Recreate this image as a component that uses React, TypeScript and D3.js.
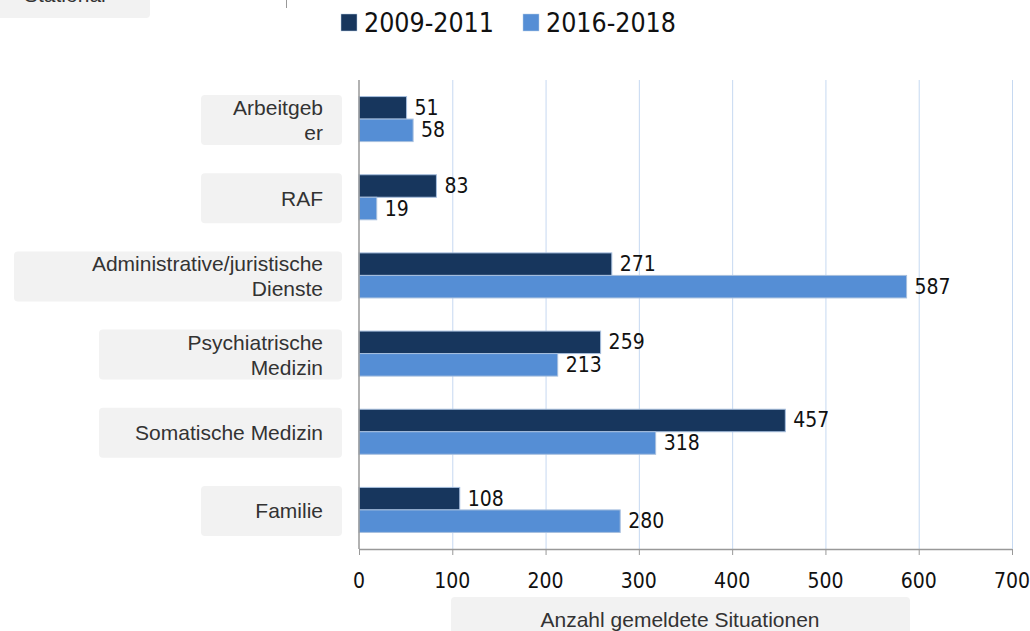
import React from "react";
import * as d3 from "d3";

const categories = [
  ["Arbeitgeb", "er"],
  ["RAF"],
  ["Administrative/juristische", "Dienste"],
  ["Psychiatrische", "Medizin"],
  ["Somatische Medizin"],
  ["Familie"],
];
const seriesNames = ["2009-2011", "2016-2018"];
const values2009 = [51, 83, 271, 259, 457, 108];
const values2016 = [58, 19, 587, 213, 318, 280];
const xTicks = [0, 100, 200, 300, 400, 500, 600, 700];
const axisTitle = "Anzahl gemeldete Situationen";
const cornerLabel = "Stationär";

// layout constants
const W = 1030;
const H = 631;
const boxWidths = [141, 141, 328, 243, 243, 141];
const colors = ["#17365d", "#558ed5"];
const numFont = "'Liberation Sans Narrow', 'DejaVu Sans Condensed', 'Liberation Sans', sans-serif";
const labFont = "'Liberation Sans', Arial, sans-serif";

export default function App() {
  const x = d3.scaleLinear().domain([0, 700]).range([359, 1012]);
  const ids = categories.map((_, i) => String(i));
  const y = d3.scaleBand().domain(ids).range([80, 549]).paddingInner(0.424).paddingOuter(0.212);
  const sub = d3.scaleBand().domain(["0", "1"]).range([0, y.bandwidth()]);
  const series = [values2009, values2016];

  return (
    <svg width={W} height={H} style={{ position: "absolute", left: 0, top: 0, background: "#fff" }}>
      {/* corner remnant */}
      <rect x={-6} y={-12} width={156} height={30} rx={4} fill="#f2f2f2" />
      <text x={24} y={2} fontFamily={labFont} fontSize={21} fill="#333">{cornerLabel}</text>
      <line x1={286.5} x2={286.5} y1={0} y2={8} stroke="#999" strokeWidth={1} />

      {/* legend */}
      {seriesNames.map((s, i) => {
        const lx = i === 0 ? 341 : 523;
        return (
          <g key={s}>
            <rect x={lx} y={14} width={16} height={17} fill={colors[i]} stroke="#b9cde5" strokeWidth={0.5} />
            <text x={lx + 23} y={32} fontFamily={numFont} fontSize={26.5} fill="#111">{s}</text>
          </g>
        );
      })}

      {/* gridlines */}
      {xTicks.filter((t) => t > 0).map((t) => (
        <line key={t} x1={x(t) + 0.5} x2={x(t) + 0.5} y1={80} y2={549} stroke="#c6d9f1" strokeWidth={1} />
      ))}

      {/* bars */}
      {categories.map((c, i) => (
        <g key={i}>
          {series.map((vals, j) => {
            const by = (y(String(i)) as number) + (sub(String(j)) as number);
            return (
              <g key={j}>
                <rect x={x(0)} y={by} width={x(vals[i]) - x(0)} height={sub.bandwidth()} fill={colors[j]} stroke="#a7bfde" strokeWidth={1} />
                <text x={x(vals[i]) + 8} y={by + sub.bandwidth() / 2} dominantBaseline="central" fontFamily={numFont} fontSize={21} fill="#111">{vals[i]}</text>
              </g>
            );
          })}
        </g>
      ))}

      {/* axes */}
      <line x1={359} x2={359} y1={80} y2={549} stroke="#999" strokeWidth={1.5} />
      <line x1={359} x2={1012} y1={549.5} y2={549.5} stroke="#999" strokeWidth={1.5} />
      {xTicks.map((t) => (
        <g key={t}>
          <line x1={x(t) + 0.5} x2={x(t) + 0.5} y1={549} y2={555} stroke="#999" strokeWidth={1} />
          <text x={x(t)} y={581} textAnchor="middle" dominantBaseline="central" fontFamily={numFont} fontSize={21} fill="#111">{t}</text>
        </g>
      ))}

      {/* category labels */}
      {categories.map((c, i) => {
        const cy = (y(String(i)) as number) + y.bandwidth() / 2 + 1;
        return (
          <g key={i}>
            <rect x={342 - boxWidths[i]} y={cy - 25} width={boxWidths[i]} height={50} rx={4} fill="#f2f2f2" />
            {c.map((line, k) => (
              <text key={k} x={323} y={cy + (k - (c.length - 1) / 2) * 25} textAnchor="end" dominantBaseline="central" fontFamily={labFont} fontSize={21} fill="#333">{line}</text>
            ))}
          </g>
        );
      })}

      {/* axis title */}
      <rect x={451} y={597} width={459} height={40} rx={4} fill="#f2f2f2" />
      <text x={680} y={619} textAnchor="middle" dominantBaseline="central" fontFamily={labFont} fontSize={21} fill="#333">{axisTitle}</text>
    </svg>
  );
}
